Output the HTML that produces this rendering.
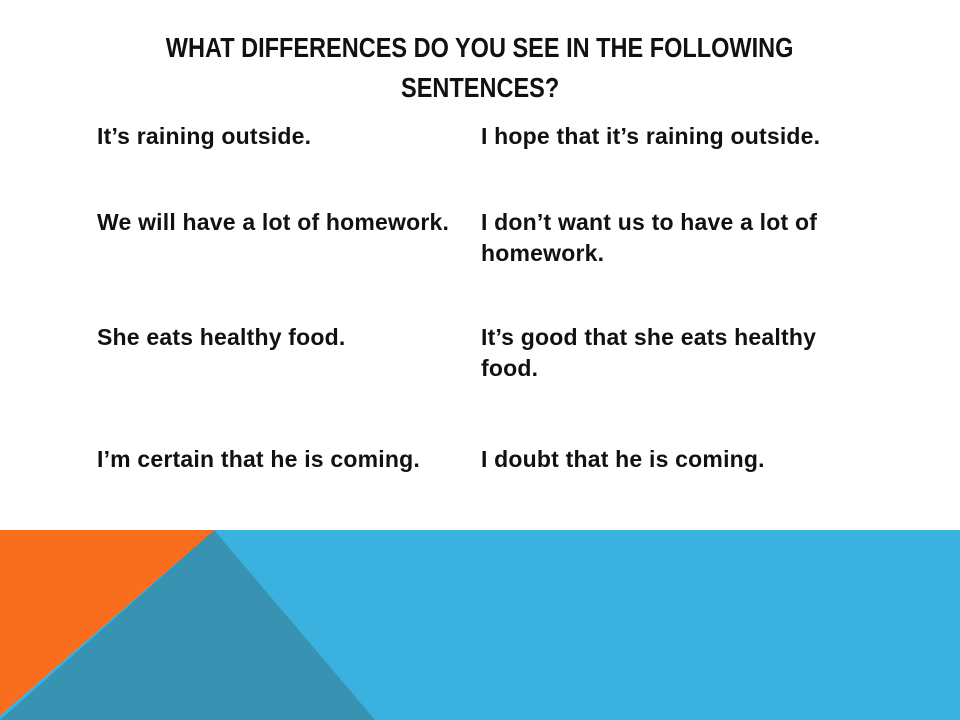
<!DOCTYPE html>
<html><head><meta charset="utf-8"><style>
body{margin:0;width:960px;height:720px;overflow:hidden;background:#fff;position:relative;font-family:"Liberation Sans",sans-serif;color:#000}
#title{position:absolute;left:0;top:28px;width:960px;text-align:center;font-size:28px;line-height:40px;color:#111;font-weight:bold}
#title span{display:inline-block;transform:scaleX(0.84);white-space:nowrap}
.t{position:absolute;font-size:23px;line-height:31px;width:470px;font-weight:bold;color:#111;letter-spacing:0.2px}
svg{position:absolute;left:0;top:0}
</style></head><body>
<svg width="960" height="720">
<rect x="0" y="530" width="960" height="190" fill="#3AB1DF"/>
<polygon points="214,530 375,720 0,720" fill="#3893B2"/>
<polygon points="0,530 214,530 0,715" fill="#F96D1E"/>
</svg>
<div id="title"><span>WHAT DIFFERENCES DO YOU SEE IN THE FOLLOWING</span><br><span>SENTENCES?</span></div>
<div class="t" style="left:97px;top:121px">It’s raining outside.</div>
<div class="t" style="left:481px;top:121px">I hope that it’s raining outside.</div>
<div class="t" style="left:97px;top:207px">We will have a lot of homework.</div>
<div class="t" style="left:481px;top:207px">I don’t want us to have a lot of<br>homework.</div>
<div class="t" style="left:97px;top:322px">She eats healthy food.</div>
<div class="t" style="left:481px;top:322px">It’s good that she eats healthy<br>food.</div>
<div class="t" style="left:97px;top:444px">I’m certain that he is coming.</div>
<div class="t" style="left:481px;top:444px">I doubt that he is coming.</div>
</body></html>
